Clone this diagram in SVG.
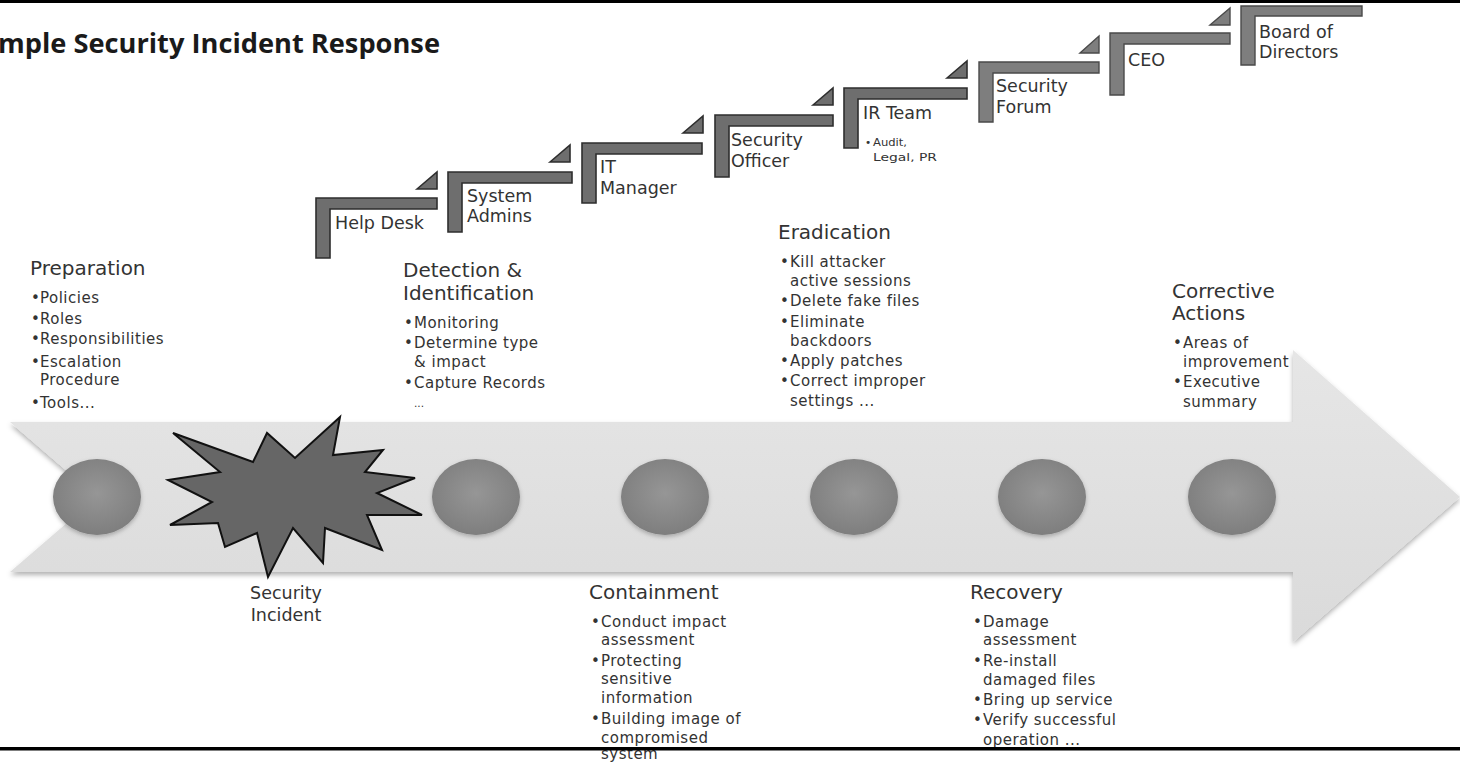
<svg xmlns="http://www.w3.org/2000/svg" width="1460" height="762" viewBox="0 0 1460 762">
<style>
text{font-family:"DejaVu Sans","Open Sans",sans-serif;fill:#333;}
.title{font-family:"Open Sans","DejaVu Sans",sans-serif;font-weight:bold;font-size:26px;fill:#1a1a1a;}
.h{font-size:20px;}
.b{font-size:15px;letter-spacing:0.5px;}
.s{font-size:17.5px;}
.tiny{font-size:10.5px;}
.step{fill:#6e6e6e;stroke:#2e2e2e;stroke-width:1.6;}
.step2{fill:#7e7e7e;stroke:#4a4a4a;stroke-width:1.4;}
.circ{fill:url(#cg);filter:url(#sh2);}
</style>
<defs>
<linearGradient id="ag" x1="0" y1="0" x2="0" y2="1">
<stop offset="0" stop-color="#e6e6e6"/>
<stop offset="1" stop-color="#dadada"/>
</linearGradient>
<radialGradient id="cg" cx="0.5" cy="0.45" r="0.6">
<stop offset="0" stop-color="#969696"/>
<stop offset="1" stop-color="#7c7c7c"/>
</radialGradient>
<filter id="sh" x="-5%" y="-10%" width="110%" height="130%">
<feDropShadow dx="0" dy="3" stdDeviation="2.5" flood-color="#000" flood-opacity="0.3"/>
</filter>
<filter id="sh2" x="-20%" y="-20%" width="140%" height="150%">
<feDropShadow dx="0" dy="2" stdDeviation="2" flood-color="#000" flood-opacity="0.25"/>
</filter>
</defs>
<rect x="0" y="0" width="1460" height="762" fill="#fff"/>
<rect x="0" y="0" width="1460" height="3" fill="#000"/>

<g id="timeline">
<polygon points="10,422 1293,422 1293,350 1460,497 1293,642 1293,572 10,572 97,497" fill="url(#ag)" filter="url(#sh)"/>
</g>

<g id="stages">
<ellipse class="circ" cx="97" cy="497" rx="44" ry="38"/>
<ellipse class="circ" cx="476" cy="497" rx="44" ry="38"/>
<ellipse class="circ" cx="665" cy="497" rx="44" ry="38"/>
<ellipse class="circ" cx="854" cy="497" rx="44" ry="38"/>
<ellipse class="circ" cx="1042" cy="497" rx="44" ry="38"/>
<ellipse class="circ" cx="1232" cy="497" rx="44" ry="38"/>
</g>

<g id="incident">
<polygon points="173,433 253,462 267,433 295,458 340,417 333,455 383,450 365,472 415,478 377,493 422,515 367,515 382,550 325,528 323,563 293,528 268,577 257,533 225,547 218,523 170,525 212,502 168,480 220,472" fill="#666" stroke="#111" stroke-width="2" stroke-linejoin="miter"/>
<text class="s" x="286" y="599" text-anchor="middle">Security</text>
<text class="s" x="286" y="621" text-anchor="middle">Incident</text>
</g>

<g id="title">
<text class="title" x="-2" y="53" textLength="442" lengthAdjust="spacingAndGlyphs">mple Security Incident Response</text>
</g>

<g id="step-helpdesk">
<path class="step" d="M316,198 H437 V209 H330 V258 H316 Z"/>
<polygon class="step" points="417,189 437,172 437,189"/>
<text class="s" x="335" y="229">Help Desk</text>
</g>
<g id="step-sysadmins">
<path class="step" d="M448,172 H572 V183 H462 V232 H448 Z"/>
<polygon class="step" points="550,162 570,145 570,162"/>
<text class="s" x="467" y="202">System</text>
<text class="s" x="467" y="222">Admins</text>
</g>
<g id="step-itmanager">
<path class="step" d="M582,143 H702 V154 H596 V203 H582 Z"/>
<polygon class="step" points="683,133 703,116 703,133"/>
<text class="s" x="600" y="173">IT</text>
<text class="s" x="600" y="194">Manager</text>
</g>
<g id="step-secofficer">
<path class="step" d="M715,115 H833 V126 H729 V177 H715 Z"/>
<polygon class="step" points="813,105 833,88 833,105"/>
<text class="s" x="731" y="146">Security</text>
<text class="s" x="731" y="167">Officer</text>
</g>
<g id="step-irteam">
<path class="step" d="M844,88 H967 V99 H858 V148 H844 Z"/>
<polygon class="step" points="947,78 967,61 967,78"/>
<text class="s" x="863" y="119">IR Team</text>
<text class="tiny" x="865" y="146">•</text>
<text class="tiny" x="873" y="146" textLength="34" lengthAdjust="spacingAndGlyphs">Audit,</text>
<text class="tiny" x="873" y="161" textLength="64" lengthAdjust="spacingAndGlyphs">Legal, PR</text>
</g>
<g id="step-secforum">
<path class="step2" d="M979,62 H1099 V73 H993 V122 H979 Z"/>
<polygon class="step2" points="1080,53 1099,36 1099,53"/>
<text class="s" x="996" y="92">Security</text>
<text class="s" x="996" y="113">Forum</text>
</g>
<g id="step-ceo">
<path class="step2" d="M1110,33 H1230 V44 H1124 V95 H1110 Z"/>
<polygon class="step2" points="1210,25 1230,8 1230,25"/>
<text class="s" x="1128" y="66">CEO</text>
</g>
<g id="step-board">
<path class="step2" d="M1241,6 H1362 V16 H1255 V65 H1241 Z"/>
<text class="s" x="1259" y="38">Board of</text>
<text class="s" x="1259" y="58">Directors</text>
</g>

<g id="preparation">
<text class="h" x="30" y="275">Preparation</text>
<text class="b" x="31" y="303">•</text><text class="b" x="40" y="303">Policies</text>
<text class="b" x="31" y="324">•</text><text class="b" x="40" y="324">Roles</text>
<text class="b" x="31" y="344">•</text><text class="b" x="40" y="344">Responsibilities</text>
<text class="b" x="31" y="367">•</text><text class="b" x="40" y="367">Escalation</text>
<text class="b" x="40" y="385">Procedure</text>
<text class="b" x="31" y="408">•</text><text class="b" x="40" y="408">Tools...</text>
</g>

<g id="detection">
<text class="h" x="403" y="277">Detection &amp;</text>
<text class="h" x="403" y="300">Identification</text>
<text class="b" x="404" y="328">•</text><text class="b" x="414" y="328">Monitoring</text>
<text class="b" x="404" y="348">•</text><text class="b" x="414" y="348">Determine type</text>
<text class="b" x="414" y="367">&amp; impact</text>
<text class="b" x="404" y="388">•</text><text class="b" x="414" y="388">Capture Records</text>
<text class="tiny" x="414" y="407">...</text>
</g>

<g id="eradication">
<text class="h" x="778" y="239">Eradication</text>
<text class="b" x="780" y="267">•</text><text class="b" x="790" y="267">Kill attacker</text>
<text class="b" x="790" y="286">active sessions</text>
<text class="b" x="780" y="306">•</text><text class="b" x="790" y="306">Delete fake files</text>
<text class="b" x="780" y="327">•</text><text class="b" x="790" y="327">Eliminate</text>
<text class="b" x="790" y="346">backdoors</text>
<text class="b" x="780" y="366">•</text><text class="b" x="790" y="366">Apply patches</text>
<text class="b" x="780" y="386">•</text><text class="b" x="790" y="386">Correct improper</text>
<text class="b" x="790" y="406">settings ...</text>
</g>

<g id="corrective">
<text class="h" x="1172" y="298">Corrective</text>
<text class="h" x="1172" y="320">Actions</text>
<text class="b" x="1173" y="348">•</text><text class="b" x="1183" y="348">Areas of</text>
<text class="b" x="1183" y="367">improvement</text>
<text class="b" x="1173" y="387">•</text><text class="b" x="1183" y="387">Executive</text>
<text class="b" x="1183" y="407">summary</text>
</g>

<g id="containment">
<text class="h" x="589" y="599">Containment</text>
<text class="b" x="591" y="627">•</text><text class="b" x="601" y="627">Conduct impact</text>
<text class="b" x="601" y="645">assessment</text>
<text class="b" x="591" y="666">•</text><text class="b" x="601" y="666">Protecting</text>
<text class="b" x="601" y="684">sensitive</text>
<text class="b" x="601" y="703">information</text>
<text class="b" x="591" y="724">•</text><text class="b" x="601" y="724">Building image of</text>
<text class="b" x="601" y="743">compromised</text>
<text class="b" x="601" y="759">system</text>
</g>

<g id="recovery">
<text class="h" x="970" y="599">Recovery</text>
<text class="b" x="973" y="627">•</text><text class="b" x="983" y="627">Damage</text>
<text class="b" x="983" y="645">assessment</text>
<text class="b" x="973" y="666">•</text><text class="b" x="983" y="666">Re-install</text>
<text class="b" x="983" y="685">damaged files</text>
<text class="b" x="973" y="705">•</text><text class="b" x="983" y="705">Bring up service</text>
<text class="b" x="973" y="725">•</text><text class="b" x="983" y="725">Verify successful</text>
<text class="b" x="983" y="745">operation ...</text>
</g>

<rect x="0" y="747" width="1460" height="3.5" fill="#000"/>
</svg>
